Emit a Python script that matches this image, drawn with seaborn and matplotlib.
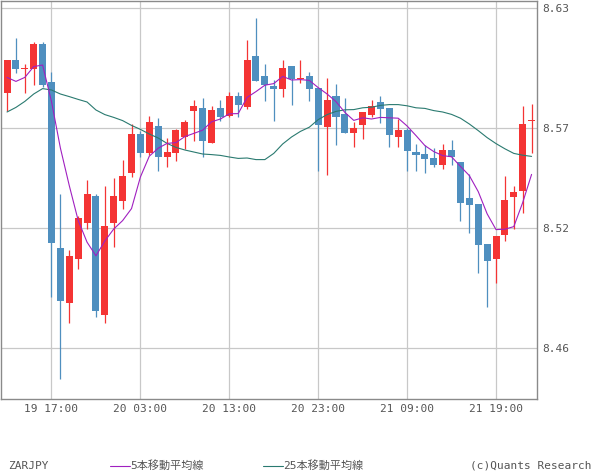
import numpy as np
import pandas as pd
import seaborn as sns
import matplotlib
matplotlib.use("Agg")
import matplotlib.pyplot as plt

# hourly ZARJPY candles, 19 12:00 .. 21 23:00
opens = [8.5877, 8.6040, 8.5995, 8.5997, 8.6120, 8.5930, 8.5100, 8.4827, 8.5047, 8.5227,
         8.5360, 8.4767, 8.5227, 8.5337, 8.5477, 8.5670, 8.5577, 8.5710, 8.5557, 8.5577,
         8.5657, 8.5787, 8.5800, 8.5627, 8.5800, 8.5760, 8.5860, 8.5803, 8.6060, 8.5960,
         8.5910, 8.5897, 8.6010, 8.5943, 8.5960, 8.5900, 8.5707, 8.5860, 8.5770, 8.5677,
         8.5717, 8.5767, 8.5830, 8.5800, 8.5657, 8.5690, 8.5580, 8.5570, 8.5550, 8.5517,
         8.5590, 8.5530, 8.5350, 8.5320, 8.5120, 8.5047, 8.5167, 8.5357, 8.5387, 8.5737]
highs = [8.6040, 8.6150, 8.6020, 8.6130, 8.6130, 8.5980, 8.5370, 8.5090, 8.5260, 8.5440,
         8.5370, 8.5410, 8.5450, 8.5540, 8.5720, 8.5683, 8.5760, 8.5750, 8.5650, 8.5693,
         8.5740, 8.5840, 8.5850, 8.5810, 8.5840, 8.5880, 8.5880, 8.6140, 8.6250, 8.6020,
         8.5940, 8.6040, 8.6010, 8.6040, 8.5980, 8.5900, 8.5950, 8.5920, 8.5850, 8.5730,
         8.5780, 8.5840, 8.5860, 8.5800, 8.5747, 8.5700, 8.5620, 8.5613, 8.5600, 8.5620,
         8.5640, 8.5530, 8.5470, 8.5320, 8.5120, 8.5160, 8.5460, 8.5410, 8.5810, 8.5820]
lows = [8.5787, 8.5977, 8.5877, 8.5917, 8.5907, 8.4857, 8.4447, 8.4727, 8.4997, 8.5197,
        8.4757, 8.4727, 8.5107, 8.5297, 8.5457, 8.5557, 8.5567, 8.5487, 8.5507, 8.5537,
        8.5597, 8.5637, 8.5557, 8.5627, 8.5737, 8.5757, 8.5757, 8.5797, 8.5935, 8.5837,
        8.5737, 8.5857, 8.5817, 8.5927, 8.5837, 8.5487, 8.5467, 8.5617, 8.5677, 8.5607,
        8.5647, 8.5757, 8.5727, 8.5607, 8.5607, 8.5487, 8.5487, 8.5477, 8.5507, 8.5497,
        8.5517, 8.5237, 8.5177, 8.4977, 8.4807, 8.4927, 8.5137, 8.5197, 8.5277, 8.5577]
closes = [8.6040, 8.5997, 8.6000, 8.6120, 8.5917, 8.5127, 8.4837, 8.5060, 8.5250, 8.5370,
          8.4787, 8.5210, 8.5360, 8.5460, 8.5670, 8.5577, 8.5730, 8.5557, 8.5580, 8.5690,
          8.5730, 8.5810, 8.5637, 8.5790, 8.5757, 8.5860, 8.5817, 8.6040, 8.5937, 8.5917,
          8.5897, 8.6000, 8.5947, 8.5950, 8.5897, 8.5717, 8.5840, 8.5757, 8.5677, 8.5700,
          8.5780, 8.5810, 8.5797, 8.5667, 8.5690, 8.5587, 8.5567, 8.5547, 8.5517, 8.5590,
          8.5557, 8.5327, 8.5317, 8.5117, 8.5037, 8.5160, 8.5340, 8.5380, 8.5720, 8.5740]
ma5 = [8.5953, 8.5933, 8.5953, 8.6007, 8.6015, 8.5832, 8.5600, 8.5412, 8.5238, 8.5129,
       8.5061, 8.5135, 8.5195, 8.5237, 8.5297, 8.5455, 8.5559, 8.5599, 8.5623, 8.5627,
       8.5657, 8.5673, 8.5689, 8.5731, 8.5745, 8.5771, 8.5772, 8.5853, 8.5882, 8.5914,
       8.5922, 8.5958, 8.5940, 8.5942, 8.5938, 8.5902, 8.5870, 8.5832, 8.5778, 8.5738,
       8.5751, 8.5745, 8.5753, 8.5751, 8.5749, 8.5710, 8.5662, 8.5612, 8.5582, 8.5562,
       8.5556, 8.5508, 8.5462, 8.5382, 8.5271, 8.5192, 8.5194, 8.5207, 8.5327, 8.5468]
ma25 = [8.5780, 8.5803, 8.5833, 8.5870, 8.5897, 8.5890, 8.5870, 8.5857, 8.5843, 8.5830,
        8.5790, 8.5767, 8.5753, 8.5737, 8.5713, 8.5693, 8.5670, 8.5650, 8.5623, 8.5603,
        8.5590, 8.5580, 8.5570, 8.5567, 8.5563, 8.5555, 8.5548, 8.5550, 8.5542, 8.5542,
        8.5573, 8.5620, 8.5655, 8.5683, 8.5704, 8.5742, 8.5767, 8.5783, 8.5791, 8.5792,
        8.5801, 8.5804, 8.5813, 8.5817, 8.5817, 8.5811, 8.5801, 8.5798, 8.5787, 8.5780,
        8.5768, 8.5749, 8.5720, 8.5687, 8.5652, 8.5622, 8.5596, 8.5573, 8.5564, 8.5558]

tick_bars = [5, 15, 25, 35, 45, 55]
tick_labels = ["19 17:00", "20 03:00", "20 13:00", "20 23:00", "21 09:00", "21 19:00"]
price_ticks = [8.46, 8.52, 8.57, 8.63]

RED = "#f43434"
BLUE = "#4f8fbf"
PURPLE = "#a020c0"
TEAL = "#2a7a70"
TXT = "#555555"

df = pd.DataFrame({"bar": np.arange(len(closes)), "open": opens, "high": highs,
                   "low": lows, "close": closes, "ma5": ma5, "ma25": ma25})
df["color"] = np.where(df["close"] >= df["open"], RED, BLUE)
df["body_lo"] = df[["open", "close"]].min(axis=1)
df["body_h"] = (df["close"] - df["open"]).abs().clip(lower=0.0005)

sns.set_theme(style="white")
plt.rcParams["font.family"] = ["DejaVu Sans Mono", "Noto Sans CJK JP"]

fig = plt.figure(figsize=(6, 4.75), dpi=100)
ax = fig.add_axes([1 / 600, 76 / 475, 536 / 600, 398 / 475])

ax.vlines(df["bar"], df["low"], df["high"], colors=df["color"], lw=0.9, zorder=2)
ax.bar(df["bar"], df["body_h"], bottom=df["body_lo"], width=0.79,
       color=df["color"], lw=0, zorder=3)
sns.lineplot(data=df, x="bar", y="ma25", color=TEAL, lw=0.8, ax=ax, zorder=4, legend=False)
sns.lineplot(data=df, x="bar", y="ma5", color=PURPLE, lw=0.8, ax=ax, zorder=5, legend=False)
l25, l5 = ax.lines[-2], ax.lines[-1]

ax.set_xlim(-0.68, 59.61)
ax.set_ylim(8.4345, 8.6335)
ax.set_xticks(tick_bars)
ax.set_xticklabels(tick_labels)
ax.set_yticks(price_ticks)
ax.set_yticklabels([f"{v:.2f}" for v in price_ticks])
ax.yaxis.tick_right()
ax.set_xlabel("")
ax.set_ylabel("")
ax.tick_params(axis="x", length=0, pad=3.5, labelsize=8, colors=TXT)
ax.tick_params(axis="y", length=0, pad=3.6, labelsize=8, colors=TXT)
ax.set_axisbelow(True)
ax.grid(True, color="#c8c8c8", lw=0.9)
for sp in ax.spines.values():
    sp.set_color("#8a8a8a")
    sp.set_linewidth(1.0)

fig.text(8 / 600, 9 / 475, "ZARJPY", fontsize=8, color=TXT, va="center", ha="left")
fig.text(591 / 600, 9 / 475, "(c)Quants Research", fontsize=8, color=TXT, va="center", ha="right")
fig.legend(handles=[l5], labels=["5本移動平均線"], loc="center left",
           bbox_to_anchor=(110 / 600, 9 / 475), frameon=False, fontsize=8,
           handlelength=1.8, handletextpad=0.0, borderpad=0, borderaxespad=0, labelcolor=TXT)
fig.legend(handles=[l25], labels=["25本移動平均線"], loc="center left",
           bbox_to_anchor=(263 / 600, 9 / 475), frameon=False, fontsize=8,
           handlelength=1.8, handletextpad=0.0, borderpad=0, borderaxespad=0, labelcolor=TXT)

fig.savefig("out.png", dpi=100)
